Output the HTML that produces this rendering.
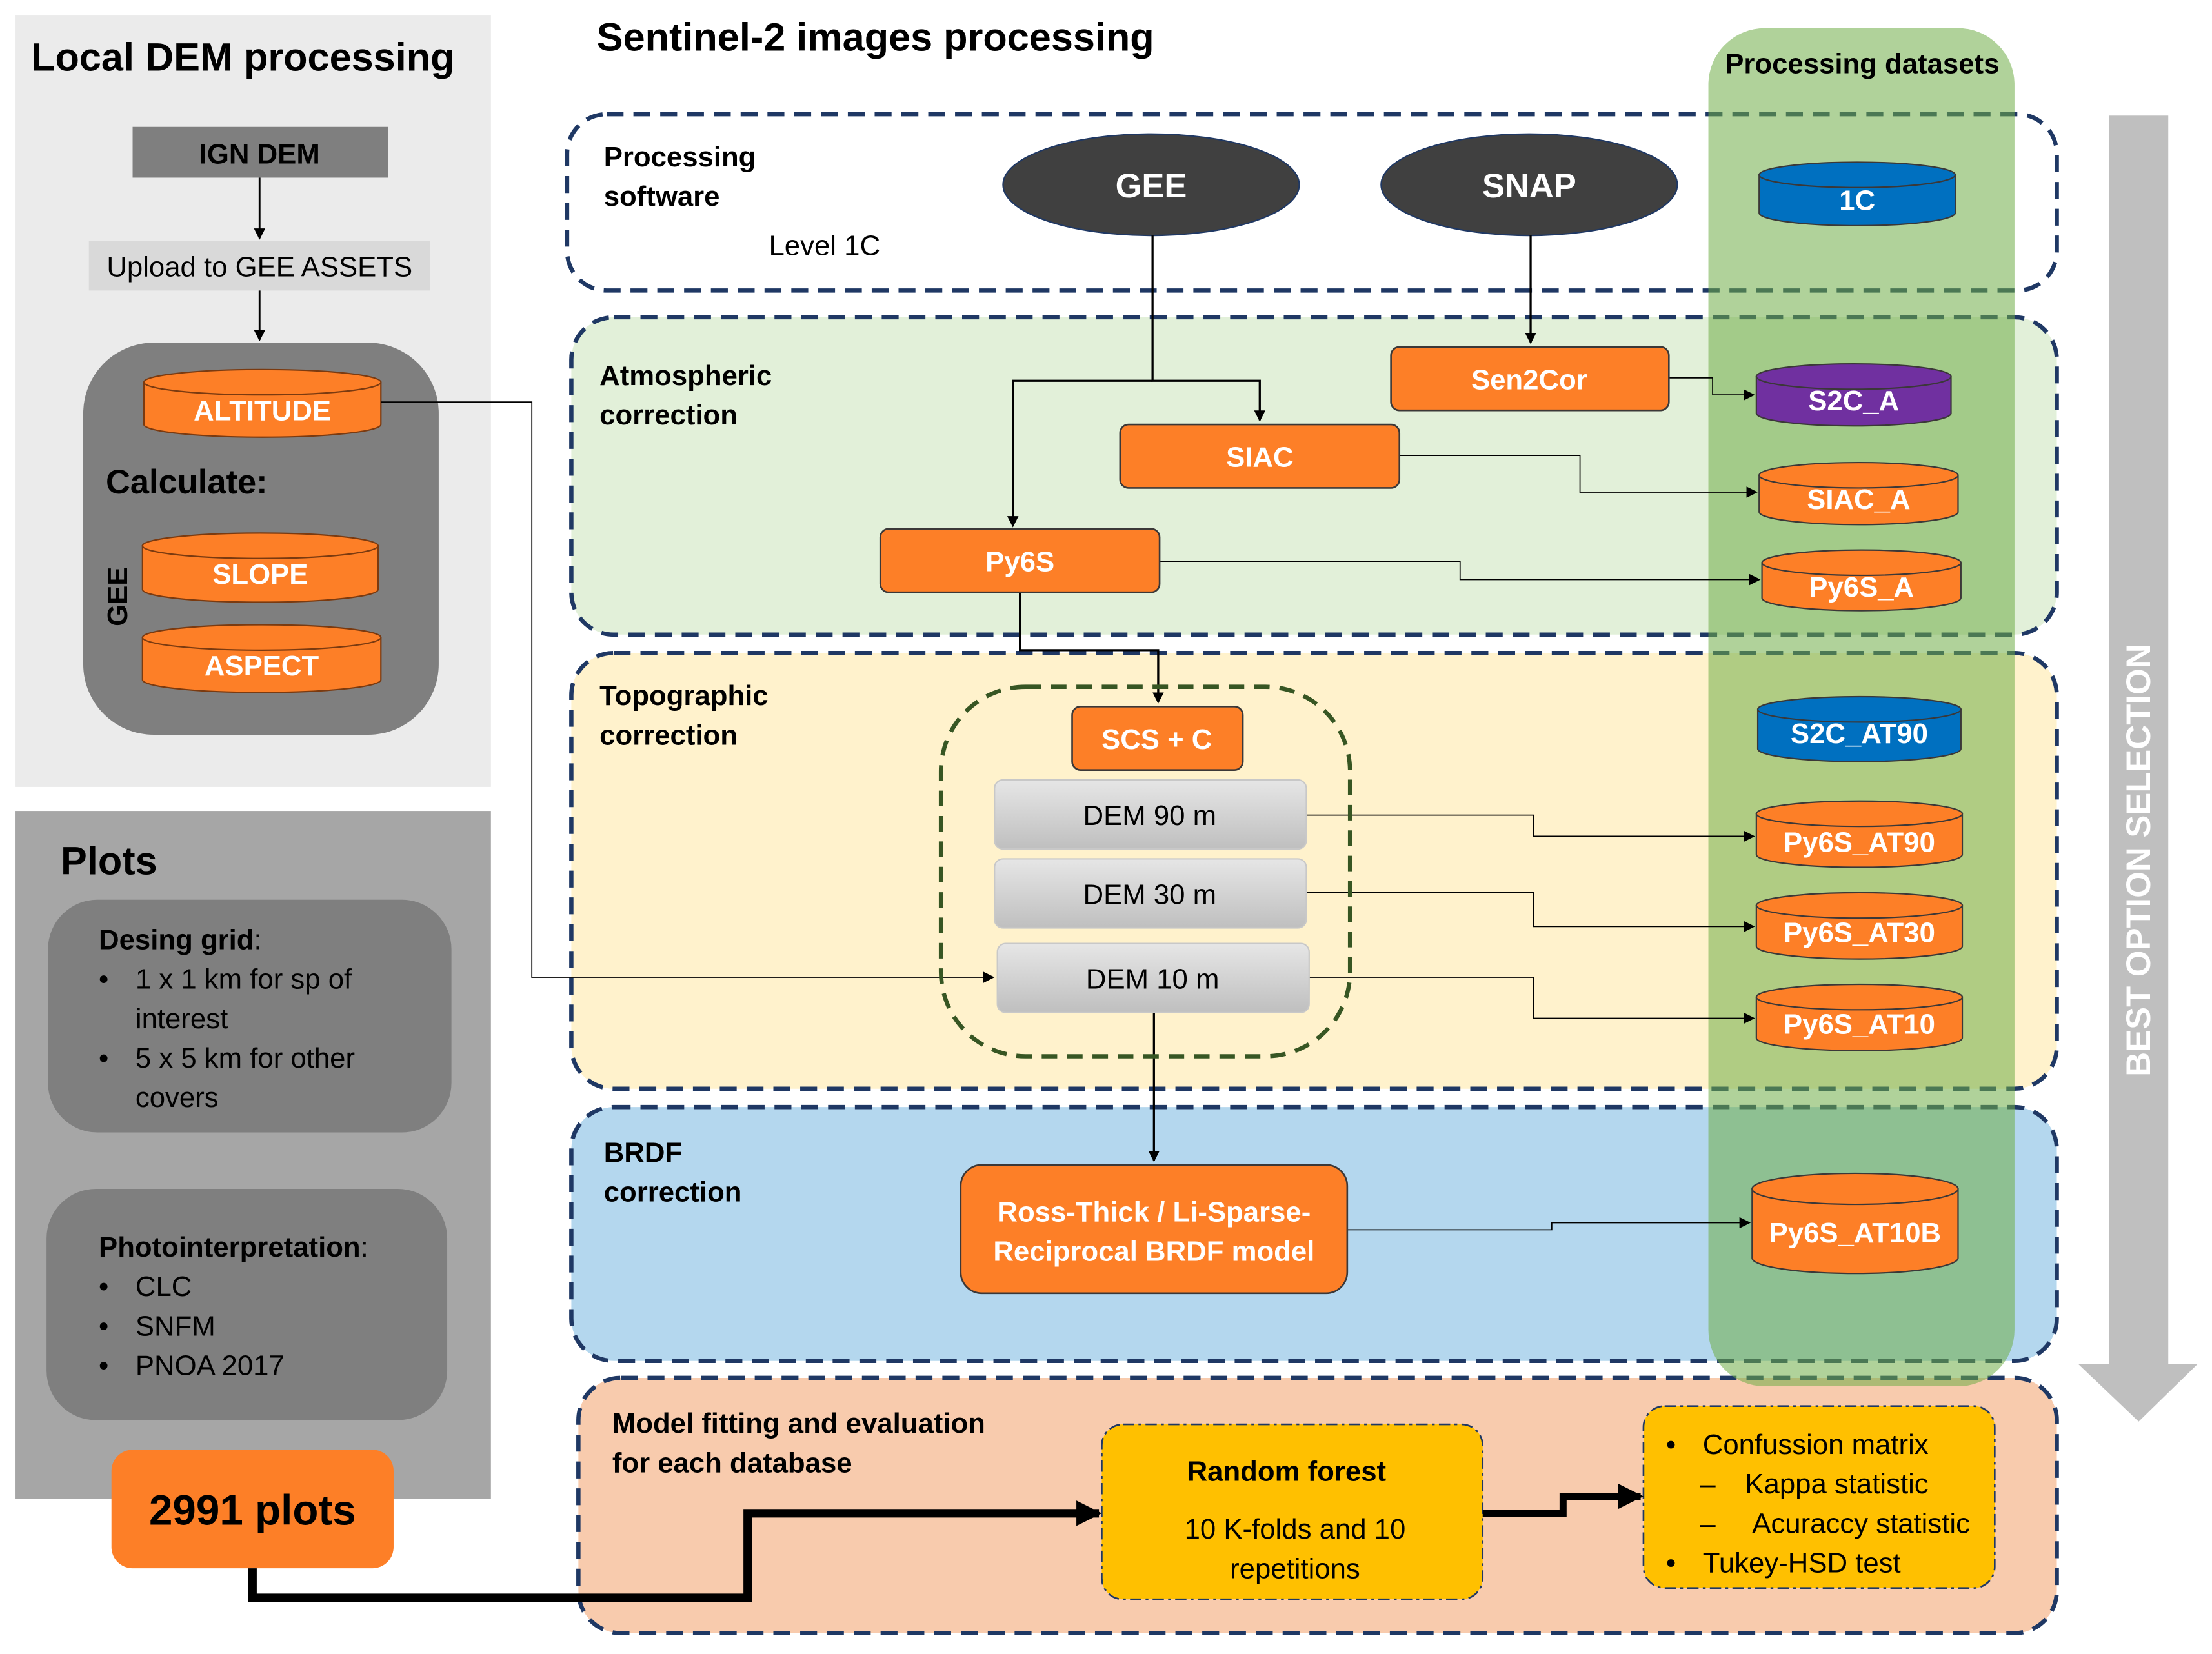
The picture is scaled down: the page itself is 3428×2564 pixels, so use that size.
<!DOCTYPE html>
<html><head><meta charset="utf-8"><style>
html,body{margin:0;padding:0;background:#fff}
svg{display:block}
text{font-family:"Liberation Sans",sans-serif}
.b{font-weight:bold}
</style></head><body>
<svg width="3428" height="2564" viewBox="0 0 1568 1172.8" xmlns="http://www.w3.org/2000/svg">
<defs>
<marker id="a" markerWidth="8" markerHeight="8" refX="7" refY="4" orient="auto" markerUnits="userSpaceOnUse"><path d="M0,0 L8,4 L0,8 Z" fill="#000"/></marker>
<marker id="ab" markerWidth="18" markerHeight="18" refX="16" refY="9" orient="auto" markerUnits="userSpaceOnUse"><path d="M0,0 L18,9 L0,18 Z" fill="#000"/></marker>
<linearGradient id="g" x1="0" y1="0" x2="0" y2="1"><stop offset="0" stop-color="#e6e6e6"/><stop offset="1" stop-color="#bfbfbf"/></linearGradient>
</defs>
<rect width="1568" height="1173" fill="#fff"/>

<!-- Left top panel -->
<rect x="11" y="11" width="337" height="547" fill="#ebebeb"/>
<text x="22" y="50" font-size="28" class="b">Local DEM processing</text>
<rect x="94" y="90" width="181" height="36" fill="#7f7f7f"/>
<text x="184" y="116" font-size="20" class="b" text-anchor="middle">IGN DEM</text>
<rect x="63" y="171" width="242" height="35" fill="#d9d9d9"/>
<text x="184" y="196" font-size="20" text-anchor="middle">Upload to GEE ASSETS</text>
<line x1="184" y1="126" x2="184" y2="169" stroke="#000" stroke-width="1.3" marker-end="url(#a)"/>
<line x1="184" y1="206" x2="184" y2="241" stroke="#000" stroke-width="1.3" marker-end="url(#a)"/>
<rect x="59" y="243" width="252" height="278" rx="50" fill="#7f7f7f"/>
<text x="75" y="350" font-size="24" class="b">Calculate:</text>
<text transform="translate(90,423) rotate(-90)" font-size="20" class="b" text-anchor="middle">GEE</text>

<g stroke="#7a3a10" stroke-width="1" fill="#fd7f27">
<path d="M102 271 L102 301 A84 9 0 0 0 270 301 L270 271 Z"/><ellipse cx="186" cy="271" rx="84" ry="9"/>
<path d="M101 387 L101 418 A83.5 9 0 0 0 268 418 L268 387 Z"/><ellipse cx="184.5" cy="387" rx="83.5" ry="9"/>
<path d="M101 452 L101 482 A84.5 9 0 0 0 270 482 L270 452 Z"/><ellipse cx="185.5" cy="452" rx="84.5" ry="9"/>
</g>
<g font-size="20" class="b" fill="#fff" text-anchor="middle">
<text x="186" y="298">ALTITUDE</text>
<text x="184.5" y="414">SLOPE</text>
<text x="185.5" y="479">ASPECT</text>
</g>

<!-- Plots panel -->
<rect x="11" y="575" width="337" height="488" fill="#a6a6a6"/>
<text x="43" y="620" font-size="28" class="b">Plots</text>
<rect x="34" y="638" width="286" height="165" rx="35" fill="#7f7f7f"/>
<g font-size="20">
<text x="70" y="673"><tspan class="b">Desing grid</tspan>:</text>
<text x="70" y="701">•</text><text x="96" y="701">1 x 1 km for sp of</text>
<text x="96" y="729">interest</text>
<text x="70" y="757">•</text><text x="96" y="757">5 x 5 km for other</text>
<text x="96" y="785">covers</text>
</g>
<rect x="33" y="843" width="284" height="164" rx="35" fill="#7f7f7f"/>
<g font-size="20">
<text x="70" y="891"><tspan class="b">Photointerpretation</tspan>:</text>
<text x="70" y="919">•</text><text x="96" y="919">CLC</text>
<text x="70" y="947">•</text><text x="96" y="947">SNFM</text>
<text x="70" y="975">•</text><text x="96" y="975">PNOA 2017</text>
</g>

<!-- Sentinel title -->
<text x="423" y="36" font-size="28" class="b">Sentinel-2 images processing</text>

<!-- dashed regions -->
<g stroke="#1f3864" stroke-width="3" stroke-dasharray="12 7">
<rect x="402" y="81" width="1056" height="125" rx="28" fill="#fff"/>
<rect x="405" y="225" width="1053" height="225" rx="30" fill="#e2f0d9"/>
<rect x="405" y="463" width="1053" height="309" rx="30" fill="#fff2cc"/>
<rect x="405" y="785" width="1053" height="180" rx="30" fill="#b4d7ee"/>
<rect x="410" y="977" width="1048" height="181" rx="30" fill="#f8cbad"/>
</g>

<!-- green column -->
<rect x="1211" y="20" width="217" height="963" rx="40" fill="#70ad47" fill-opacity="0.55"/>
<text x="1320" y="52" font-size="20" class="b" text-anchor="middle">Processing datasets</text>

<!-- Gray big arrow -->
<rect x="1495" y="82" width="42" height="885" fill="#bfbfbf"/>
<polygon points="1473,967 1558,967 1516,1008" fill="#bfbfbf"/>
<text transform="translate(1524,610) rotate(-90)" font-size="24" class="b" fill="#fff" text-anchor="middle">BEST OPTION SELECTION</text>

<!-- labels -->
<g font-size="20" class="b">
<text x="428" y="118">Processing</text><text x="428" y="146">software</text>
<text x="425" y="273">Atmospheric</text><text x="425" y="301">correction</text>
<text x="425" y="500">Topographic</text><text x="425" y="528">correction</text>
<text x="428" y="824">BRDF</text><text x="428" y="852">correction</text>
<text x="434" y="1016">Model fitting and evaluation</text><text x="434" y="1044">for each database</text>
</g>
<text x="545" y="181" font-size="20">Level 1C</text>

<!-- GEE / SNAP -->
<ellipse cx="816" cy="131" rx="105" ry="36" fill="#404040" stroke="#1f3864" stroke-width="1"/>
<text x="816" y="140" font-size="24" class="b" fill="#fff" text-anchor="middle">GEE</text>
<ellipse cx="1084" cy="131" rx="105" ry="36" fill="#404040" stroke="#1f3864" stroke-width="1"/>
<text x="1084" y="140" font-size="24" class="b" fill="#fff" text-anchor="middle">SNAP</text>

<!-- connectors -->
<g stroke="#000" stroke-width="1.5" fill="none">
<polyline points="817,167 817,270 893,270 893,298" marker-end="url(#a)"/>
<polyline points="817,270 718,270 718,373" marker-end="url(#a)"/>
<line x1="1085" y1="167" x2="1085" y2="243" marker-end="url(#a)"/>
<polyline points="723,420 723,461 821,461 821,498" marker-end="url(#a)"/>
<line x1="818" y1="718" x2="818" y2="823" marker-end="url(#a)"/>
</g>
<g stroke="#000" stroke-width="0.8" fill="none">
<polyline points="1183,268 1214,268 1214,280 1243,280" marker-end="url(#a)"/>
<polyline points="992,323 1120,323 1120,349 1245,349" marker-end="url(#a)"/>
<polyline points="822,398 1035,398 1035,411 1247,411" marker-end="url(#a)"/>
<polyline points="926,578 1087,578 1087,593 1243,593" marker-end="url(#a)"/>
<polyline points="926,633 1087,633 1087,657 1243,657" marker-end="url(#a)"/>
<polyline points="928,693 1087,693 1087,722 1243,722" marker-end="url(#a)"/>
<polyline points="955,872 1100,872 1100,867 1240,867" marker-end="url(#a)"/>
<polyline points="270,285 377,285 377,693 704,693" marker-end="url(#a)"/>
</g>

<!-- orange boxes -->
<g fill="#fd7f27" stroke="#3b3838" stroke-width="1.2">
<rect x="986" y="246" width="197" height="45" rx="6"/>
<rect x="794" y="301" width="198" height="45" rx="6"/>
<rect x="624" y="375" width="198" height="45" rx="6"/>
<rect x="760" y="501" width="121" height="45" rx="6"/>
<rect x="681" y="826" width="274" height="91" rx="15"/>
</g>
<g font-size="20" class="b" fill="#fff" text-anchor="middle">
<text x="1084" y="276">Sen2Cor</text>
<text x="893" y="331">SIAC</text>
<text x="723" y="405">Py6S</text>
<text x="820" y="531">SCS + C</text>
<text x="818" y="866">Ross-Thick / Li-Sparse-</text>
<text x="818" y="894">Reciprocal BRDF model</text>
</g>

<!-- green dashed -->
<rect x="667" y="487" width="290" height="262" rx="60" fill="none" stroke="#375623" stroke-width="3" stroke-dasharray="11 7"/>
<!-- DEM boxes -->
<g fill="url(#g)" stroke="#c8c8c8" stroke-width="1">
<rect x="705" y="553" width="221" height="49" rx="6"/>
<rect x="705" y="609" width="221" height="49" rx="6"/>
<rect x="707" y="669" width="221" height="49" rx="6"/>
</g>
<g font-size="20" text-anchor="middle">
<text x="815" y="585">DEM 90 m</text>
<text x="815" y="641">DEM 30 m</text>
<text x="817" y="701">DEM 10 m</text>
</g>

<!-- dataset cylinders -->
<g stroke="#3b3838" stroke-width="1">
<path d="M1247 124 L1247 151 A69.5 9 0 0 0 1386 151 L1386 124 Z" fill="#0070c0"/><ellipse cx="1316.5" cy="124" rx="69.5" ry="9" fill="#0070c0"/>
<path d="M1245 267 L1245 293 A69 9 0 0 0 1383 293 L1383 267 Z" fill="#7030a0"/><ellipse cx="1314" cy="267" rx="69" ry="9" fill="#7030a0"/>
<path d="M1247 337 L1247 363 A70.5 9 0 0 0 1388 363 L1388 337 Z" fill="#fd7f27"/><ellipse cx="1317.5" cy="337" rx="70.5" ry="9" fill="#fd7f27"/>
<path d="M1249 399 L1249 424 A70.5 9 0 0 0 1390 424 L1390 399 Z" fill="#fd7f27"/><ellipse cx="1319.5" cy="399" rx="70.5" ry="9" fill="#fd7f27"/>
<path d="M1246 503 L1246 531 A72 9 0 0 0 1390 531 L1390 503 Z" fill="#0070c0"/><ellipse cx="1318" cy="503" rx="72" ry="9" fill="#0070c0"/>
<path d="M1245 577 L1245 606 A73 9 0 0 0 1391 606 L1391 577 Z" fill="#fd7f27"/><ellipse cx="1318" cy="577" rx="73" ry="9" fill="#fd7f27"/>
<path d="M1245 642 L1245 671 A73 9 0 0 0 1391 671 L1391 642 Z" fill="#fd7f27"/><ellipse cx="1318" cy="642" rx="73" ry="9" fill="#fd7f27"/>
<path d="M1245 707 L1245 736 A73 9 0 0 0 1391 736 L1391 707 Z" fill="#fd7f27"/><ellipse cx="1318" cy="707" rx="73" ry="9" fill="#fd7f27"/>
<path d="M1242 843 L1242 892 A73 11 0 0 0 1388 892 L1388 843 Z" fill="#fd7f27"/><ellipse cx="1315" cy="843" rx="73" ry="11" fill="#fd7f27"/>
</g>
<g font-size="20" class="b" fill="#fff" text-anchor="middle">
<text x="1316.5" y="149">1C</text>
<text x="1314" y="291">S2C_A</text>
<text x="1317.5" y="361">SIAC_A</text>
<text x="1319.5" y="423">Py6S_A</text>
<text x="1318" y="527">S2C_AT90</text>
<text x="1318" y="604">Py6S_AT90</text>
<text x="1318" y="668">Py6S_AT30</text>
<text x="1318" y="733">Py6S_AT10</text>
<text x="1315" y="881">Py6S_AT10B</text>
</g>

<!-- Random forest & results -->
<rect x="781" y="1010" width="270" height="124" rx="15" fill="#ffc000" stroke="#1f3864" stroke-width="1.2" stroke-dasharray="8 3 2 3"/>
<text x="912" y="1050" font-size="20" class="b" text-anchor="middle">Random forest</text>
<text x="918" y="1091" font-size="20" text-anchor="middle">10 K-folds and 10</text>
<text x="918" y="1119" font-size="20" text-anchor="middle">repetitions</text>
<rect x="1165" y="997" width="249" height="129" rx="15" fill="#ffc000" stroke="#1f3864" stroke-width="1.2" stroke-dasharray="8 3 2 3"/>
<g font-size="20">
<text x="1181" y="1031">•</text><text x="1207" y="1031">Confussion matrix</text>
<text x="1205" y="1059">–</text><text x="1237" y="1059">Kappa statistic</text>
<text x="1205" y="1087">–</text><text x="1242" y="1087">Acuraccy statistic</text>
<text x="1181" y="1115">•</text><text x="1207" y="1115">Tukey-HSD test</text>
</g>

<!-- 2991 plots -->
<rect x="79" y="1028" width="200" height="84" rx="15" fill="#fd7f27"/>
<text x="179" y="1081" font-size="30" class="b" text-anchor="middle">2991 plots</text>
<polyline points="179,1112 179,1133 530,1133 530,1073 779,1073" fill="none" stroke="#000" stroke-width="6" marker-end="url(#ab)"/>
<polyline points="1051,1073 1108,1073 1108,1061 1163,1061" fill="none" stroke="#000" stroke-width="5" marker-end="url(#ab)"/>
</svg>
</body></html>
